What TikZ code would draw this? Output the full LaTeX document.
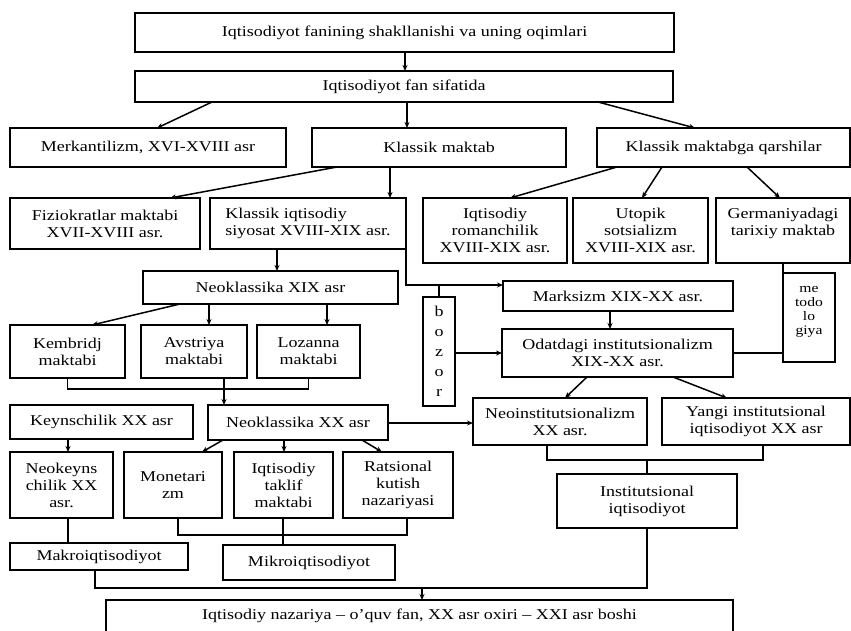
\documentclass[tikz,border=0pt]{standalone}
\usepackage{fontspec}
\setmainfont{Liberation Serif}[FakeStretch=1.2]
\usetikzlibrary{arrows.meta}

\begin{document}
\begin{tikzpicture}[x=1pt,y=-1pt,line width=1.5pt,
    every node/.style={draw, outer sep=0pt, inner sep=2pt, align=center, font=\fontsize{15}{17}\selectfont},
    sz/.style 2 args={minimum width=#1, minimum height=#2},
    ar/.style={-{Stealth[length=6pt,width=5pt]}}]
            \useasboundingbox (0,0) rectangle (851,631);
            % top part
            \node[sz={539}{39}] (T) at (404.5,32.5) {Iqtisodiyot fanining shakllanishi va uning oqimlari};
            \node[sz={538}{31}] (F) at (404,86.5) {Iqtisodiyot fan sifatida};
            \node[sz={276}{39}] (merk) at (148,147.5) {Merkantilizm, XVI-XVIII asr};
            \node[sz={254}{39}] (klas) at (439,147.5) {Klassik maktab};
            \node[sz={253}{39}] (qarsh) at (723.5,147.5) {Klassik maktabga qarshilar};
            \node[sz={190}{51}] (fizio) at (105,223.5) {Fiziokratlar maktabi\\XVII-XVIII asr.};
            \node[sz={196}{51}, align=left] (siyos) at (308,223.5) {Klassik iqtisodiy\\siyosat XVIII-XIX asr.};
            \node[sz={144}{65}] (roman) at (495,230.5) {Iqtisodiy\\romanchilik\\XVIII-XIX asr.};
            \node[sz={135}{65}] (utop) at (640.5,230.5) {Utopik\\sotsializm\\XVIII-XIX asr.};
            \node[sz={134}{65}] (germ) at (783,230.5) {Germaniyadagi\\tarixiy maktab\\ \mbox{}};
            % middle part
            \node[sz={255}{33}] (nXIX) at (270.5,287.5) {Neoklassika XIX asr};
            \node[sz={115}{53}] (kemb) at (67.5,351.5) {Kembridj\\maktabi};
            \node[sz={106}{53}] (avst) at (194,351.5) {Avstriya\\maktabi};
            \node[sz={103}{53}] (loz) at (308.5,351.5) {Lozanna\\maktabi};
            \node[sz={32}{109}, font=\fontsize{15}{20}\selectfont] (boz) at (439,351.5) {b\\o\\z\\o\\r};
            \node[sz={230}{30}] (marks) at (618,296) {Marksizm XIX-XX asr.};
            \node[sz={231}{48}] (odat) at (617.5,353) {Odatdagi institutsionalizm\\XIX-XX asr.};
            \node[sz={52}{89}, font=\fontsize{13}{14}\selectfont] (metod) at (809,317.5) {me\\todo\\lo\\giya\\ \mbox{}};
            \node[sz={183}{34}] (keyns) at (101.5,422) {Keynschilik XX asr};
            \node[sz={180}{35}] (nXX) at (298,422.5) {Neoklassika XX asr};
            \node[sz={174}{47}] (neoinst) at (560,421.5) {Neoinstitutsionalizm\\XX asr.};
            \node[sz={188}{47}] (yangi) at (756,421.5) {Yangi institutsional\\iqtisodiyot XX asr};
            % bottom part
            \node[sz={103}{66}] (nkeyns) at (61.5,485) {Neokeyns\\chilik XX\\asr.};
            \node[sz={98}{66}] (monet) at (173,485) {Monetari\\zm};
            \node[sz={99}{66}] (taklif) at (283.5,485) {Iqtisodiy\\taklif\\maktabi};
            \node[sz={110}{66}] (rats) at (398,485) {Ratsional\\kutish\\nazariyasi};
            \node[sz={180}{54}] (inst) at (647,501) {Institutsional\\iqtisodiyot};
            \node[sz={178}{27}] (makro) at (99,556.5) {Makroiqtisodiyot};
            \node[sz={172}{35}] (mikro) at (309,562.5) {Mikroiqtisodiyot};
            \node[sz={627}{45}] (nazar) at (419.5,622.5) {Iqtisodiy nazariya – o'quv fan, XX asr oxiri – XXI asr boshi\\ \mbox{}};
            \coordinate (jb) at (422,588);
            % arrows
            \draw[ar] (T.south -| 405,0) -- (F.north -| 405,0);
            \draw[ar] (F.south -| 212,0) -- (merk.north -| 157,0);
            \draw[ar] (F.south -| 407,0) -- (klas.north -| 407,0);
            \draw[ar] (F.south -| 598,0) -- (qarsh.north -| 695,0);
            \draw[ar] (klas.south -| 337,0) -- (fizio.north -| 170,0);
            \draw[ar] (klas.south -| 390,0) -- (siyos.north -| 390,0);
            \draw[ar] (qarsh.south -| 617,0) -- (roman.north -| 510,0);
            \draw[ar] (qarsh.south -| 662,0) -- (utop.north -| 642,0);
            \draw[ar] (qarsh.south -| 747,0) -- (germ.north -| 780,0);
            \draw[ar] (siyos.south -| 277,0) -- (nXIX.north -| 277,0);
            \draw[ar] (siyos.south east) |- (marks.west |- 0,285);
            \draw (boz.north) -- (boz.north |- 0,285);
            \draw[ar] (boz.east |- odat.west) -- (odat.west);
            \draw[ar] (marks.south -| 610,0) -- (odat.north -| 610,0);
            \draw (germ.south -| metod.west) -- (metod.north west);
            \draw (odat.east) -- (odat.east -| metod.west);
            \draw[ar] (nXIX.south -| 180,0) -- (kemb.north -| 92,0);
            \draw[ar] (nXIX.south -| 209,0) -- (avst.north -| 209,0);
            \draw[ar] (nXIX.south -| 327,0) -- (loz.north -| 327,0);
            \draw (kemb.south) -- ++(0,11) -| (loz.south);
            \draw[ar] (avst.south -| 224,0) -- (nXX.north -| 224,0);
            \draw[ar] (keyns.south -| 68,0) -- (nkeyns.north -| 68,0);
            \draw[ar] (nXX.south -| 223,0) -- (monet.north -| 202,0);
            \draw[ar] (nXX.south -| 284,0) -- (taklif.north -| 284,0);
            \draw[ar] (nXX.south -| 362,0) -- (rats.north -| 382,0);
            \draw[ar] (nXX.east |- 0,423) -- (neoinst.west |- 0,423);
            \draw[ar] (odat.south -| 587,0) -- (neoinst.north -| 565,0);
            \draw[ar] (odat.south -| 673,0) -- (yangi.north -| 727,0);
            \draw (neoinst.south -| 547,0) -- ++(0,15) -| (yangi.south -| 763,0);
            \draw (inst.north) -- ++(0,-14);
            \draw (nkeyns.south -| 68,0) -- (makro.north -| 68,0);
            \draw (monet.south -| 178,0) -- ++(0,17) -| (rats.south -| 407,0);
            \draw (taklif.south -| 283,0) -- (mikro.north -| 283,0);
            \draw (makro.south -| 95,0) |- (inst.south |- jb) -- (inst.south);
            \draw (mikro.south -| 312,0) -- (mikro.south -| 312,0 |- jb);
            \draw[ar] (jb) -- (nazar.north -| jb);
        \end{tikzpicture}
\end{document}
